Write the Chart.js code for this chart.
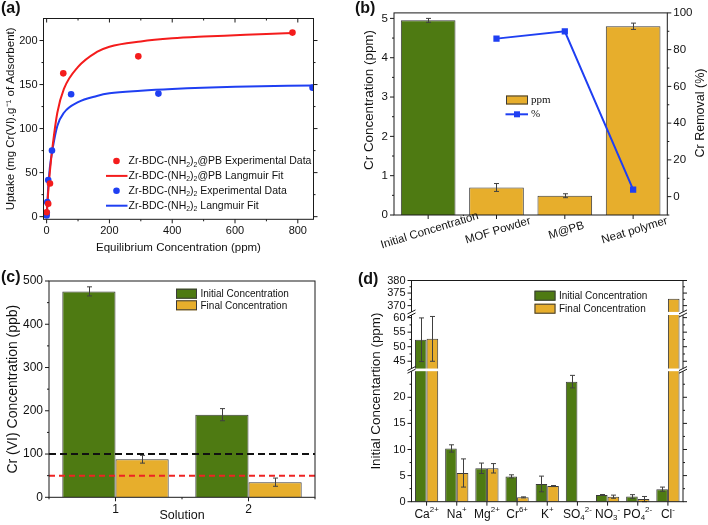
<!DOCTYPE html>
<html>
<head>
<meta charset="utf-8">
<script src="https://cdn.jsdelivr.net/npm/chart.js@4.4.1/dist/chart.umd.min.js"></script>
<style>
  body { margin: 0; background: #fff; }
  #wrap { position: relative; width: 708px; height: 525px; overflow: hidden; }
  canvas { position: absolute; }
  .tag { position: absolute; font: bold 16px 'Liberation Sans', Arial, sans-serif; line-height: 1; color: #111; }
</style>
</head>
<body>
<div id="wrap">
  <canvas id="chartA" width="354" height="262" style="left:0;top:0"></canvas>
  <canvas id="chartB" width="354" height="262" style="left:354px;top:0"></canvas>
  <canvas id="chartC" width="354" height="263" style="left:0;top:262px"></canvas>
  <canvas id="chartD" width="354" height="263" style="left:354px;top:262px"></canvas>
  <div class="tag" style="left:1px;top:0px">(a)</div>
  <div class="tag" style="left:355px;top:0px">(b)</div>
  <div class="tag" style="left:1px;top:269px">(c)</div>
  <div class="tag" style="left:358px;top:271px">(d)</div>
</div>
<script>
// ---- (a) isothermes ----
const pbExpC = [0, 5, 10.6, 53, 292, 783];
const pbExpQ = [5, 14.7, 37.7, 162.7, 182, 209];
const pbFitC = [0, 5, 10, 19, 34, 55, 100, 160, 200, 300, 400, 500, 600, 700, 790];
const pbFitQ = [0, 28, 50, 80, 118, 145, 170, 187, 193, 199, 202.5, 204.5, 206, 207.5, 208.5];
const mofExpC = [0, 0.5, 2, 5, 17, 78, 356, 847];
const mofExpQ = [1.4, 4.4, 16.5, 41.5, 75, 139, 139.7, 146.5];
const mofFitC = [0, 5, 10, 19, 34, 55, 100, 160, 200, 300, 400, 600, 850];
const mofFitQ = [0, 33, 55, 77, 103, 118, 130, 137, 140, 143, 145, 147.5, 149];
const aXTicks = [0, 200, 400, 600, 800];
const aXMinor = [100, 300, 500, 700];
const aYTicks = [0, 50, 100, 150, 200];
const aYMinor = [25, 75, 125, 175];

// ---- (b) ----
const bSamples = ['Initial Concentration', 'MOF Powder', 'M@PB', 'Neat polymer'];
const bConc = [4.95, 0.70, 0.49, 4.80];
const bConcErr = [0.05, 0.10, 0.05, 0.08];
const bRemoval = [null, 86, 90, 3.8];
const bYTicks = [0, 1, 2, 3, 4, 5];
const bYMinor = [0.5, 1.5, 2.5, 3.5, 4.5];
const bY2Ticks = [0, 20, 40, 60, 80, 100];
const bY2Minor = [-10, 10, 30, 50, 70, 90];

// ---- (c) ----
const cSolutions = ['1', '2'];
const cInitial = [476, 191];
const cInitialErr = [10.5, 14];
const cFinal = [88, 35];
const cFinalErr = [9, 9.5];
const cLimits = [100, 50];
const cYTicks = [0, 100, 200, 300, 400, 500];
const cYMinor = [50, 150, 250, 350, 450];

// ---- (d) ----  (_{..} indice, ^{..} exposant)
const dIons = ['Ca^{2+}', 'Na^{+}', 'Mg^{2+}', 'Cr^{6+}', 'K^{+}', 'SO_{4}^{2-}', 'NO_{3}^{-}', 'PO_{4}^{2-}', 'Cl^{-}'];
const dInitial = [52.4, 10.2, 6.4, 4.85, 3.4, 23.0, 1.28, 1.0, 2.4];
const dInitialErr = [7.5, 0.7, 1.0, 0.3, 1.5, 1.2, 0.1, 0.35, 0.4];
const dFinal = [52.7, 5.5, 6.4, 0.83, 3.0, 0, 0.96, 0.5, 372.7];
const dFinalErr = [7.7, 2.7, 0.9, 0.1, 0.1, 0, 0.3, 0.5, 0];
const dTicks = [0, 5, 10, 15, 20, 45, 50, 55, 60, 370, 375, 380];
const dMinor = [2.5, 7.5, 12.5, 17.5, 22.5, 47.5, 52.5, 57.5, 372.5, 377.5];
// axe coupé : plage de valeurs -> fraction de la hauteur
const dSegments = [
  { from: 0, to: 25, lo: 0, hi: 0.590 },
  { from: 42.5, to: 60.9, lo: 0.602, hi: 0.844 },
  { from: 367.5, to: 380, lo: 0.858, hi: 1 }
];

const RED = '#f41c1c';
const BLUE = '#1f3ff2';
const GREEN = '#4e7a12';
const YELLOW = '#e7ae2c';
const EDGE = '#3a3a3a';
const AXIS = '#1a1a1a';
const FONT = "'Liberation Sans', Arial, sans-serif";

Chart.defaults.font.family = FONT;
Chart.defaults.font.size = 11;
Chart.defaults.color = '#111';
Chart.defaults.animation = false;
Chart.defaults.responsive = false;
Chart.defaults.events = [];
Chart.defaults.plugins.legend.display = false;
Chart.defaults.plugins.tooltip.enabled = false;

const NOGRID = { display: false, drawTicks: false };
const fixW = w => s => { s.width = w; };
const fixH = h => s => { s.height = h; };
const setTicks = arr => s => { s.ticks = arr.map(v => ({ value: v })); };
const toXY = (xs, ys) => xs.map((x, i) => ({ x: x, y: ys[i] }));

// texte avec indices / exposants
function richText(ctx, str, x, y, size, align) {
  const parts = [];
  str.replace(/([_^])\{([^}]*)\}|([^_^]+)/g, (m, mode, inner, plain) => {
    if (plain) parts.push({ t: plain, dy: 0, s: size });
    else parts.push({ t: inner, dy: mode === '_' ? size * 0.3 : -size * 0.38, s: size * 0.66 });
  });
  let w = 0;
  parts.forEach(p => { ctx.font = p.s + 'px ' + FONT; p.w = ctx.measureText(p.t).width; w += p.w; });
  let cx = align === 'center' ? x - w / 2 : x;
  ctx.textAlign = 'left';
  parts.forEach(p => { ctx.font = p.s + 'px ' + FONT; ctx.fillText(p.t, cx, y + p.dy); cx += p.w; });
}

// titre vertical (lu de bas en haut)
function vTitle(ctx, text, x, y, size) {
  ctx.save();
  ctx.fillStyle = '#111';
  ctx.font = size + 'px ' + FONT;
  ctx.textAlign = 'center';
  ctx.textBaseline = 'middle';
  ctx.translate(x, y);
  ctx.rotate(-Math.PI / 2);
  ctx.fillText(text, 0, 0);
  ctx.restore();
}

// barres d'erreur
Chart.register({
  id: 'errorBars',
  afterDatasetsDraw(chart) {
    const ctx = chart.ctx;
    chart.data.datasets.forEach((ds, i) => {
      if (!ds.errors) return;
      const meta = chart.getDatasetMeta(i);
      const yScale = chart.scales[meta.yAxisID];
      ctx.save();
      ctx.strokeStyle = '#404040';
      ctx.lineWidth = 1;
      meta.data.forEach((bar, j) => {
        const e = ds.errors[j];
        if (!e) return;
        const v = ds.data[j];
        const x = Math.round(bar.x) + 0.5;
        const y1 = yScale.getPixelForValue(v + e);
        const y2 = yScale.getPixelForValue(v - e);
        ctx.beginPath();
        ctx.moveTo(x, y1); ctx.lineTo(x, y2);
        ctx.moveTo(x - 2.5, y1); ctx.lineTo(x + 2.5, y1);
        ctx.moveTo(x - 2.5, y2); ctx.lineTo(x + 2.5, y2);
        ctx.stroke();
      });
      ctx.restore();
    });
  }
});

// cadre + graduations (longueur > 0 : vers l'extérieur)
function drawFrame(chart, marks) {
  const { ctx, chartArea: a } = chart;
  ctx.save();
  ctx.strokeStyle = AXIS;
  ctx.lineWidth = 1;
  ctx.strokeRect(a.left, a.top, a.right - a.left, a.bottom - a.top);
  marks.forEach(m => {
    const scale = chart.scales[m.scale];
    m.values.forEach(v => {
      const p = scale.getPixelForValue(v);
      ctx.beginPath();
      if (m.side === 'left') { ctx.moveTo(a.left, p); ctx.lineTo(a.left - m.len, p); }
      if (m.side === 'right') { ctx.moveTo(a.right, p); ctx.lineTo(a.right + m.len, p); }
      if (m.side === 'bottom') { ctx.moveTo(p, a.bottom); ctx.lineTo(p, a.bottom + m.len); }
      if (m.side === 'top') { ctx.moveTo(p, a.top); ctx.lineTo(p, a.top - m.len); }
      ctx.stroke();
    });
  });
  ctx.restore();
}

function boxLegend(ctx, items, x, y, step, size) {
  ctx.save();
  ctx.font = size + 'px ' + FONT;
  ctx.textBaseline = 'middle';
  items.forEach((ds, i) => {
    const yy = y + i * step;
    ctx.fillStyle = ds.backgroundColor;
    ctx.fillRect(x, yy - 5, 21, 10);
    ctx.strokeStyle = EDGE;
    ctx.lineWidth = 1;
    ctx.strokeRect(x + 0.5, yy - 4.5, 20, 9);
    ctx.fillStyle = '#111';
    ctx.fillText(ds.label, x + 24.5, yy + 0.5);
  });
  ctx.restore();
}

// ================= (a) =================
new Chart(document.getElementById('chartA'), {
  type: 'scatter',
  data: {
    datasets: [
      { label: 'Zr-BDC-(NH_{2})_{2}@PB Experimental Data', data: toXY(pbExpC, pbExpQ),
        backgroundColor: RED, borderColor: RED, pointRadius: 3.3, borderWidth: 0, order: 0 },
      { label: 'Zr-BDC-(NH_{2})_{2}@PB Langmuir Fit', data: toXY(pbFitC, pbFitQ), showLine: true,
        borderColor: RED, borderWidth: 2, pointRadius: 0, cubicInterpolationMode: 'monotone', order: 1 },
      { label: 'Zr-BDC-(NH_{2})_{2} Experimental Data', data: toXY(mofExpC, mofExpQ),
        backgroundColor: BLUE, borderColor: BLUE, pointRadius: 3.3, borderWidth: 0, order: 0 },
      { label: 'Zr-BDC-(NH_{2})_{2} Langmuir Fit', data: toXY(mofFitC, mofFitQ), showLine: true,
        borderColor: BLUE, borderWidth: 2, pointRadius: 0, cubicInterpolationMode: 'monotone', order: 1 }
    ]
  },
  options: {
    layout: { padding: { left: 0, top: 18.5, right: 40.5, bottom: 0 } },
    scales: {
      x: {
        type: 'linear', min: -10, max: 850,
        grid: NOGRID, border: { display: false },
        afterBuildTicks: setTicks(aXTicks), afterFit: fixH(42.7),
        ticks: { padding: 5 },
        title: { display: true, text: 'Equilibrium Concentration (ppm)', font: { size: 11.5 }, padding: { bottom: 7 } }
      },
      y: {
        min: -3, max: 225,
        grid: NOGRID, border: { display: false },
        afterBuildTicks: setTicks(aYTicks), afterFit: fixW(43.5),
        ticks: { padding: 6 },
        title: { display: true, text: 'Uptake (mg Cr(VI).g⁻¹ of Adsorbent)', font: { size: 11.5 }, padding: { top: 3.5 } }
      }
    }
  },
  plugins: [{
    id: 'aDeco',
    afterDraw(chart) {
      drawFrame(chart, [
        { scale: 'y', side: 'left', values: aYTicks, len: 4 },
        { scale: 'y', side: 'left', values: aYMinor, len: 2 },
        { scale: 'y', side: 'right', values: aYTicks, len: 4 },
        { scale: 'y', side: 'right', values: aYMinor, len: 2 },
        { scale: 'x', side: 'bottom', values: aXTicks, len: 4 },
        { scale: 'x', side: 'bottom', values: aXMinor, len: 2 },
        { scale: 'x', side: 'top', values: aXTicks, len: -4 },
        { scale: 'x', side: 'top', values: aXMinor, len: -2 }
      ]);
      const ctx = chart.ctx;
      ctx.save();
      ctx.textBaseline = 'middle';
      chart.data.datasets.forEach((ds, i) => {
        const y = 161 + i * 14.9;
        if (ds.showLine) {
          ctx.strokeStyle = ds.borderColor; ctx.lineWidth = 2;
          ctx.beginPath(); ctx.moveTo(106, y); ctx.lineTo(127.5, y); ctx.stroke();
        } else {
          ctx.fillStyle = ds.backgroundColor;
          ctx.beginPath(); ctx.arc(116.5, y, 3.3, 0, Math.PI * 2); ctx.fill();
        }
        ctx.fillStyle = '#111';
        richText(ctx, ds.label, 128.5, y + 0.5, 10.5, 'left');
      });
      ctx.restore();
    }
  }]
});

// ================= (b) =================
new Chart(document.getElementById('chartB'), {
  type: 'bar',
  data: {
    labels: bSamples,
    datasets: [
      { type: 'line', label: '%', data: bRemoval, yAxisID: 'y2', borderColor: BLUE, backgroundColor: BLUE,
        borderWidth: 2, pointStyle: 'rect', pointRadius: 3, order: 0 },
      { label: 'ppm', data: bConc, errors: bConcErr, yAxisID: 'y',
        backgroundColor: [GREEN, YELLOW, YELLOW, YELLOW], borderColor: EDGE, borderWidth: 1,
        categoryPercentage: 0.8, barPercentage: 1, order: 1 }
    ]
  },
  options: {
    layout: { padding: { left: 0, top: 10, right: 0, bottom: 0 } },
    scales: {
      x: {
        grid: NOGRID, border: { display: false },
        ticks: { display: false }, afterFit: fixH(47)
      },
      y: {
        position: 'left', min: 0, max: 5.14,
        grid: NOGRID, border: { display: false },
        afterBuildTicks: setTicks(bYTicks), afterFit: fixW(40),
        ticks: { padding: 6, font: { size: 11.5 } }
      },
      y2: {
        position: 'right', min: -10, max: 100,
        grid: NOGRID, border: { display: false },
        afterBuildTicks: setTicks(bY2Ticks), afterFit: fixW(40.7),
        ticks: { padding: 6, font: { size: 11.5 } }
      }
    }
  },
  plugins: [{
    id: 'bDeco',
    afterDraw(chart) {
      drawFrame(chart, [
        { scale: 'y', side: 'left', values: bYTicks, len: 4 },
        { scale: 'y', side: 'left', values: bYMinor, len: 2 },
        { scale: 'y2', side: 'right', values: bY2Ticks, len: 4 },
        { scale: 'y2', side: 'right', values: bY2Minor, len: 2 },
        { scale: 'x', side: 'bottom', values: bSamples.map((s, i) => i), len: 4 }
      ]);
      const { ctx, scales: { x } } = chart;
      vTitle(ctx, 'Cr Concentration (ppm)', 15, 100, 13.4);
      vTitle(ctx, 'Cr Removal (%)', 347, 113, 12.5);
      ctx.save();
      ctx.fillStyle = '#111';
      ctx.textAlign = 'center';
      ctx.textBaseline = 'middle';
      ctx.font = '11.5px ' + FONT;
      bSamples.forEach((lab, i) => {
        ctx.save();
        ctx.translate(x.getPixelForValue(i) + 1.5, 230.5);
        ctx.rotate(-17 * Math.PI / 180);
        ctx.fillText(lab, 0, 0);
        ctx.restore();
      });
      // légende
      const bars = chart.data.datasets[1], line = chart.data.datasets[0];
      ctx.fillStyle = YELLOW;
      ctx.fillRect(152, 95.5, 22, 9);
      ctx.strokeStyle = EDGE; ctx.lineWidth = 1;
      ctx.strokeRect(152.5, 96, 21, 8);
      ctx.strokeStyle = BLUE; ctx.lineWidth = 2;
      ctx.beginPath(); ctx.moveTo(151.5, 114.3); ctx.lineTo(174, 114.3); ctx.stroke();
      ctx.fillStyle = BLUE;
      ctx.fillRect(160, 111.3, 6, 6);
      ctx.fillStyle = '#111';
      ctx.textAlign = 'left';
      ctx.font = "11px 'Liberation Serif', 'Times New Roman', serif";
      ctx.fillText(bars.label, 177, 100);
      ctx.fillText(line.label, 177, 114.5);
      ctx.restore();
    }
  }]
});

// ================= (c) =================
new Chart(document.getElementById('chartC'), {
  type: 'bar',
  data: {
    labels: cSolutions,
    datasets: [
      { label: 'Initial Concentration', data: cInitial, errors: cInitialErr,
        backgroundColor: GREEN, borderColor: EDGE, borderWidth: 1, categoryPercentage: 0.8, barPercentage: 1 },
      { label: 'Final Concentration', data: cFinal, errors: cFinalErr,
        backgroundColor: YELLOW, borderColor: EDGE, borderWidth: 1, categoryPercentage: 0.8, barPercentage: 1 }
    ]
  },
  options: {
    layout: { padding: { left: 0, top: 19, right: 39, bottom: 0 } },
    scales: {
      x: {
        grid: NOGRID, border: { display: false },
        afterFit: fixH(27.7),
        ticks: { padding: 5, font: { size: 12 } },
        title: { display: true, text: 'Solution', font: { size: 12.5 }, padding: { bottom: 2 } }
      },
      y: {
        min: 0, max: 500,
        grid: NOGRID, border: { display: false },
        afterBuildTicks: setTicks(cYTicks), afterFit: fixW(49),
        ticks: { padding: 6, font: { size: 12 } },
        title: { display: true, text: 'Cr (VI) Concentration (ppb)', font: { size: 14 }, padding: { top: 4.3 } }
      }
    }
  },
  plugins: [{
    id: 'cLimits',
    afterDatasetsDraw(chart) {
      const { ctx, chartArea: a, scales: { y } } = chart;
      ctx.save();
      ctx.lineWidth = 2;
      [['#111', [7, 4]], ['#ee2323', [6, 4]]].forEach((st, i) => {
        const p = y.getPixelForValue(cLimits[i]);
        ctx.strokeStyle = st[0];
        ctx.setLineDash(st[1]);
        ctx.beginPath(); ctx.moveTo(a.left, p); ctx.lineTo(a.right, p); ctx.stroke();
      });
      ctx.restore();
    },
    afterDraw(chart) {
      drawFrame(chart, [
        { scale: 'y', side: 'left', values: cYTicks, len: 4 },
        { scale: 'y', side: 'left', values: cYMinor, len: 2 },
        { scale: 'x', side: 'bottom', values: [0, 1], len: 4 },
        { scale: 'x', side: 'bottom', values: [-0.5, 0.5, 1.5], len: 2 }
      ]);
      boxLegend(chart.ctx, chart.data.datasets, 176, 31.7, 11.6, 10);
    }
  }]
});

// ================= (d) =================
function brokenFraction(v) {
  for (let i = 0; i < dSegments.length; i++) {
    const s = dSegments[i], next = dSegments[i + 1];
    if (!next || v <= s.to) return s.lo + (v - s.from) / (s.to - s.from) * (s.hi - s.lo);
    if (v < next.from) return s.hi + (v - s.to) / (next.from - s.to) * (next.lo - s.hi);
  }
}

class BrokenScale extends Chart.LinearScale {
  buildTicks() {
    return dTicks.map(v => ({ value: v }));
  }
  getPixelForValue(value) {
    if (value === null || value === undefined || isNaN(value)) return NaN;
    return this.bottom - brokenFraction(value) * (this.bottom - this.top);
  }
  getValueForPixel(pixel) {
    const f = (this.bottom - pixel) / (this.bottom - this.top);
    const s = dSegments.find(seg => f <= seg.hi) || dSegments[dSegments.length - 1];
    return s.from + (f - s.lo) / (s.hi - s.lo) * (s.to - s.from);
  }
}
BrokenScale.id = 'broken';
BrokenScale.defaults = {};
Chart.register(BrokenScale);

new Chart(document.getElementById('chartD'), {
  type: 'bar',
  data: {
    labels: dIons,
    datasets: [
      { label: 'Initial Concentration', data: dInitial, errors: dInitialErr,
        backgroundColor: GREEN, borderColor: EDGE, borderWidth: 1, categoryPercentage: 0.77, barPercentage: 1 },
      { label: 'Final Concentration', data: dFinal, errors: dFinalErr,
        backgroundColor: YELLOW, borderColor: EDGE, borderWidth: 1, categoryPercentage: 0.77, barPercentage: 1 }
    ]
  },
  options: {
    layout: { padding: { left: 0, top: 18.5, right: 25, bottom: 0 } },
    scales: {
      x: {
        grid: NOGRID, border: { display: false },
        afterFit: fixH(23.3),
        ticks: { display: false }
      },
      y: {
        type: 'broken', min: 0, max: 380,
        grid: NOGRID, border: { display: false },
        afterFit: fixW(57.5),
        ticks: { padding: 6, autoSkip: false, callback: v => String(v) },
        title: { display: true, text: 'Initial Concentartion (ppm)', font: { size: 13.4 }, padding: { top: 14.5 } }
      }
    }
  },
  plugins: [{
    id: 'dDeco',
    afterDraw(chart) {
      drawFrame(chart, [
        { scale: 'y', side: 'left', values: dTicks, len: 4 },
        { scale: 'y', side: 'left', values: dMinor, len: 2 },
        { scale: 'y', side: 'right', values: dTicks, len: 4 },
        { scale: 'y', side: 'right', values: dMinor, len: 2 },
        { scale: 'x', side: 'bottom', values: dIons.map((s, i) => i), len: 4 }
      ]);
      const { ctx, chartArea: a, scales: { x } } = chart;
      const h = a.bottom - a.top;
      ctx.save();
      for (let i = 0; i < dSegments.length - 1; i++) {
        const yLow = a.bottom - dSegments[i].hi * h;
        const yHigh = a.bottom - dSegments[i + 1].lo * h;
        ctx.fillStyle = '#fff';
        ctx.fillRect(a.left - 6, yHigh, a.right - a.left + 12, yLow - yHigh);
        ctx.strokeStyle = AXIS;
        ctx.lineWidth = 1;
        [a.left, a.right].forEach(px => {
          [yHigh, yLow].forEach(py => {
            ctx.beginPath();
            ctx.moveTo(px - 4, py + 2);
            ctx.lineTo(px + 4, py - 2);
            ctx.stroke();
          });
        });
      }
      // étiquettes des ions
      ctx.fillStyle = '#111';
      ctx.textBaseline = 'middle';
      dIons.forEach((lab, i) => richText(ctx, lab, x.getPixelForValue(i), a.bottom + 13, 12, 'center'));
      ctx.restore();
      boxLegend(ctx, chart.data.datasets, 180.5, 33.7, 13, 10);
    }
  }]
});
</script>
</body>
</html>
